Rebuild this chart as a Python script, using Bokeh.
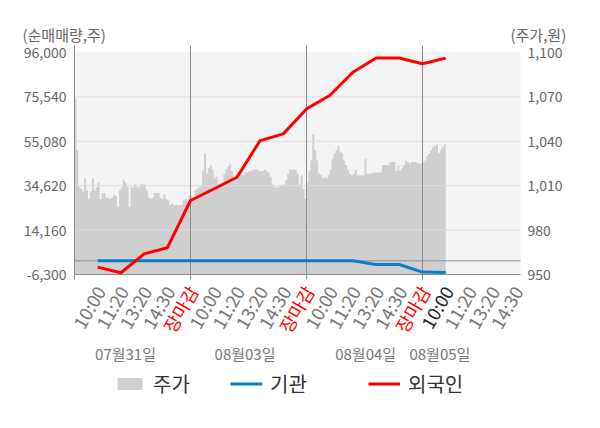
import math
from bokeh.plotting import figure
from bokeh.models import Range1d, Legend, LegendItem, ColumnDataSource
from bokeh.core.properties import value
from bokeh.embed import file_html
from bokeh.resources import INLINE

FONT = "Noto Sans CJK KR"

# ---------------- data ----------------
DAYS = ["07월31일", "08월03일", "08월04일", "08월05일"]
TIME_LABELS = ["10:00", "11:20", "13:20", "14:30", "장마감"]
LEFT_TICKS = [-6300, 14160, 34620, 55080, 75540, 96000]
LEFT_TICK_LABELS = ["-6,300", "14,160", "34,620", "55,080", "75,540", "96,000"]
RIGHT_TICKS = [950, 980, 1010, 1040, 1070, 1100]
RIGHT_TICK_LABELS = ["950", "980", "1,010", "1,040", "1,070", "1,100"]

# cumulative net purchase (shares) at each labelled time
FOREIGN = [-2900, -5500, 3200, 6000, 27800, 33100, 38500, 55400,
           58500, 70000, 76200, 86900, 93500, 93500, 90800, 93400]
INSTITUTION = [0, 0, 0, 0, 0, 0, 0, 0,
               0, 0, 0, 0, -1700, -1700, -5200, -5400]

# intraday price (won), 60 samples per trading day
PRICE_D1 = [1069, 1034, 1009, 1008, 1006, 1015, 1007, 1001, 1006, 1015,
            1007, 1009, 1012, 1001, 1005, 1005, 1002, 1002, 1001, 1002,
            1004, 1003, 996, 1007, 1009, 1014, 1012, 1009, 996, 1009,
            1009, 1011, 1009, 1009, 1011, 1011, 1011, 1007, 1002, 1001,
            1002, 1005, 1005, 1005, 1002, 1001, 1004, 1001, 1000, 997,
            998, 997, 997, 997, 997, 997, 1000, 1001, 1000, 1003]
PRICE_D2 = [1003, 1001, 1007, 1008, 1009, 1010, 1020, 1032, 1018, 1022,
            1024, 1021, 1015, 1016, 1011, 1011, 1011, 1018, 1021, 1023,
            1025, 1020, 1014, 1017, 1018, 1018, 1017, 1017, 1019, 1019,
            1020, 1020, 1021, 1021, 1021, 1020, 1020, 1020, 1021, 1020,
            1019, 1016, 1011, 1009, 1009, 1009, 1010, 1011, 1010, 1014,
            1018, 1021, 1021, 1021, 1021, 1018, 1011, 1017, 1008, 1001]
PRICE_D3 = [1012, 1020, 1027, 1045, 1034, 1027, 1018, 1017, 1015, 1016,
            1015, 1017, 1021, 1028, 1032, 1034, 1037, 1033, 1032, 1027,
            1024, 1021, 1018, 1017, 1018, 1021, 1017, 1017, 1017, 1017,
            1028, 1018, 1018, 1018, 1019, 1019, 1019, 1019, 1019, 1024,
            1024, 1024, 1024, 1026, 1026, 1026, 1020, 1024, 1020, 1022,
            1024, 1027, 1026, 1025, 1026, 1026, 1026, 1025, 1025, 1025]
PRICE_D4 = [1026, 1027, 1030, 1032, 1034, 1036, 1037, 1038, 1032, 1034,
            1036, 1038]
SAMPLES_PER_DAY = 60

# ---------------- layout (pixels of the 600x428 canvas) ----------------
W, H = 600, 428
PX_LEFT, PX_RIGHT = 74, 520          # plot area left / right
PX_BOTTOM, PX_TOP = 274, 52          # y of lowest / highest tick
PX_FRAME_TOP = 45                    # top of vertical guide lines
UNITS_PER_DAY = len(TIME_LABELS)
PX_PER_UNIT = 23.2
L_PER_PX = (LEFT_TICKS[-1] - LEFT_TICKS[0]) / (PX_BOTTOM - PX_TOP)
R_PER_PX = (RIGHT_TICKS[-1] - RIGHT_TICKS[0]) / (PX_BOTTOM - PX_TOP)


def xd(px):
    return (px - PX_LEFT) / PX_PER_UNIT


def yd(py):
    return LEFT_TICKS[0] + (PX_BOTTOM - py) * L_PER_PX


def rd(py):
    return RIGHT_TICKS[0] + (PX_BOTTOM - py) * R_PER_PX


X_END = xd(PX_RIGHT)
Y_BOT = LEFT_TICKS[0]
Y_TOP = yd(PX_FRAME_TOP)

p = figure(width=W, height=H, output_backend="svg", toolbar_location=None,
           x_range=Range1d(xd(0), xd(W)), y_range=Range1d(yd(H), yd(0)),
           x_axis_location=None, y_axis_location=None, min_border=0,
           outline_line_color=None, background_fill_color="white",
           border_fill_color="white")
p.extra_y_ranges = {"price": Range1d(rd(H), rd(0))}
p.xgrid.visible = False
p.ygrid.visible = False

GUIDE = "#8c8c8c"

# plot background band
p.quad(left=[0], right=[X_END], bottom=[Y_BOT], top=[LEFT_TICKS[-1]],
       fill_color="#f4f4f4", line_color=None)

# price area
prices = PRICE_D1 + PRICE_D2 + PRICE_D3 + PRICE_D4
ax_ = [i * UNITS_PER_DAY / SAMPLES_PER_DAY for i in range(len(prices))]
ax_.append(len(prices) * UNITS_PER_DAY / SAMPLES_PER_DAY)
ay_ = prices + [prices[-1]]
area = p.varea_step(x=ax_, y1=[RIGHT_TICKS[0]] * len(ay_), y2=ay_,
                    step_mode="after", y_range_name="price",
                    fill_color="#cfcfcf", fill_alpha=1)

# horizontal gridlines (over the area)
grid_y = LEFT_TICKS[1:-1]
p.segment(x0=[0] * len(grid_y), x1=[X_END] * len(grid_y), y0=grid_y, y1=grid_y,
          line_color="#dddddd", line_width=1)
# zero line and bottom axis line
p.segment(x0=[0, 0], x1=[X_END, X_END], y0=[0, Y_BOT], y1=[0, Y_BOT],
          line_color=GUIDE, line_width=1)
# day boundaries, left axis line and ticks
bounds = [d * UNITS_PER_DAY for d in range(1, len(DAYS))]
vx = [0] + bounds
p.segment(x0=vx, x1=vx, y0=[Y_TOP] * len(vx), y1=[yd(PX_BOTTOM + 5)] * len(vx),
          line_color=GUIDE, line_width=1)

# series
tick_x = []
for d in range(len(DAYS)):
    for t in range(len(TIME_LABELS)):
        tick_x.append(d * UNITS_PER_DAY + t + 1)
line_x = tick_x[:len(FOREIGN)]
blue = p.line(line_x, INSTITUTION, line_color="#0a7ec8", line_width=3)
red = p.line(line_x, FOREIGN, line_color="#ff0000", line_width=3)

# y tick labels
p.text(x=[xd(PX_LEFT - 8)] * len(LEFT_TICKS), y=LEFT_TICKS, text=LEFT_TICK_LABELS,
       text_align="right", text_baseline="middle", text_font=value(FONT),
       text_font_size="14px", text_color="#666666")
p.text(x=[xd(PX_RIGHT + 7)] * len(RIGHT_TICKS), y=RIGHT_TICKS,
       text=RIGHT_TICK_LABELS, y_range_name="price",
       text_align="left", text_baseline="middle", text_font=value(FONT),
       text_font_size="14px", text_color="#666666")

# rotated time labels
lx, lt, lc = [], [], []
n_last = 4
for d in range(len(DAYS)):
    n = len(TIME_LABELS) if d < len(DAYS) - 1 else n_last
    for t in range(n):
        lx.append(d * UNITS_PER_DAY + t + 1 + 2 / PX_PER_UNIT)
        lt.append(TIME_LABELS[t])
        if t == len(TIME_LABELS) - 1:
            lc.append("#ff0000")
        elif d == len(DAYS) - 1 and t == 0:
            lc.append("#222222")
        else:
            lc.append("#777777")
src = ColumnDataSource(dict(x=lx, y=[yd(PX_BOTTOM + 13)] * len(lx), text=lt, color=lc))
p.text(x="x", y="y", text="text", text_color="color", source=src,
       angle=math.pi / 3, text_align="right", text_baseline="middle",
       text_font=value(FONT), text_font_size="18px")

# date labels
DATE_POS = [2.2, 7.35, 12.55, 15.75]
p.text(x=DATE_POS, y=[yd(353)] * len(DATE_POS), text=DAYS,
       text_align="center", text_baseline="middle", text_font=value(FONT),
       text_font_size="15px", text_color="#777777")

# axis titles
p.text(x=[xd(22), xd(510)], y=[yd(34), yd(34)], text=["(순매매량,주)", "(주가,원)"],
       text_align="left", text_baseline="middle", text_font=value(FONT),
       text_font_size="15px", text_color="#666666")


# legends
def add_legend(renderer, label, left_px, gw, gh):
    leg = Legend(items=[LegendItem(label=label, renderers=[renderer])],
                 location=(left_px, H - 398), orientation="horizontal",
                 glyph_width=gw, glyph_height=gh, label_standoff=8,
                 padding=0, margin=0, border_line_color=None,
                 background_fill_alpha=0, label_text_font=FONT,
                 label_text_font_size="20px", label_text_color="#333333")
    p.add_layout(leg)


add_legend(area, "주가", 114, 31, 15)
add_legend(blue, "기관", 230, 32, 15)
add_legend(red, "외국인", 368, 32, 15)

open("out.html", "w").write(file_html(p, INLINE))
